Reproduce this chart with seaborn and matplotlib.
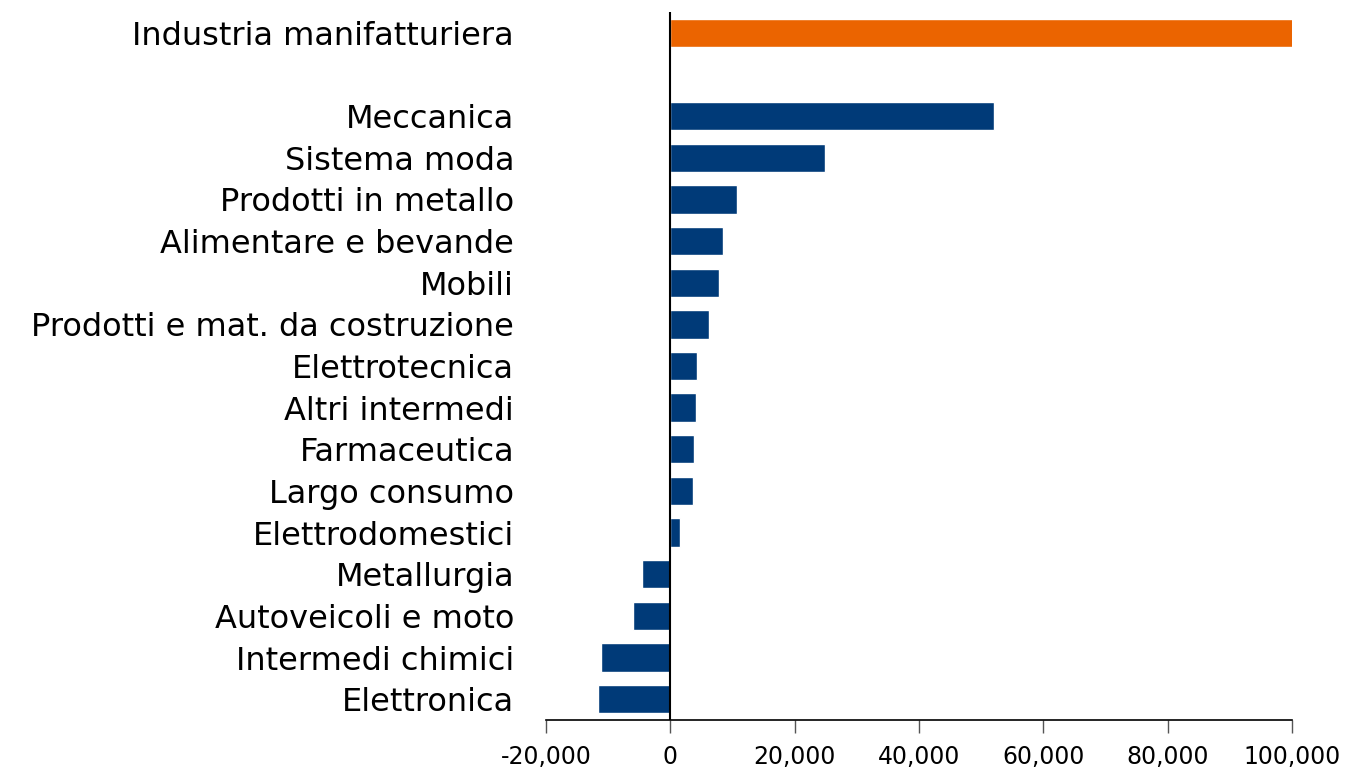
import pandas as pd
import matplotlib.pyplot as plt
import seaborn as sns
from matplotlib.ticker import FuncFormatter

# values
settori = ['Industria manifatturiera', 'Meccanica', 'Sistema moda', 'Prodotti in metallo',
           'Alimentare e bevande', 'Mobili', 'Prodotti e mat. da costruzione',
           'Elettrotecnica', 'Altri intermedi', 'Farmaceutica', 'Largo consumo',
           'Elettrodomestici', 'Metallurgia', 'Autoveicoli e moto',
           'Intermedi chimici', 'Elettronica']
valori = [100300, 52100, 24800, 10800, 8400, 7900, 6300, 4300, 4200, 3800, 3700,
          1500, -4600, -6000, -11100, -11600]
xticks = [-20000, 0, 20000, 40000, 60000, 80000, 100000]

df = pd.DataFrame({'settore': settori, 'valore': valori})
colori = {s: '#003A78' for s in settori}
colori['Industria manifatturiera'] = '#EB6400'
# blank slot after the total
ordine = [settori[0], ' '] + settori[1:]

sns.set_style('white')
plt.rcParams['font.family'] = ['DejaVu Sans']

fig = plt.figure(figsize=(13.45, 7.7), dpi=100)
ax = fig.add_axes([546/1345, 50/770, 746/1345, 708/770])
sns.barplot(data=df, y='settore', x='valore', order=ordine, hue='settore',
            palette=colori, legend=False, width=0.68, saturation=1, ax=ax)

ax.set_xlim(-20000, 100000)
ax.set_ylim(16.5, -0.5)
ax.axvline(0, color='black', lw=1.5, zorder=3)
for s in ['left', 'right', 'top']:
    ax.spines[s].set_visible(False)
ax.spines['bottom'].set_color('black')
ax.spines['bottom'].set_linewidth(1.2)

ax.set_xticks(xticks)
ax.xaxis.set_major_formatter(FuncFormatter(lambda v, p: f'{int(v):,}'))
ax.tick_params(axis='x', direction='out', length=9, width=1, color='#555555',
               labelsize=17, labelcolor='black', pad=9, bottom=True)
ax.tick_params(axis='y', length=0, labelsize=23, labelcolor='black', pad=23)
ax.set_xlabel('')
ax.set_ylabel('')

plt.savefig('out.png', dpi=100)
